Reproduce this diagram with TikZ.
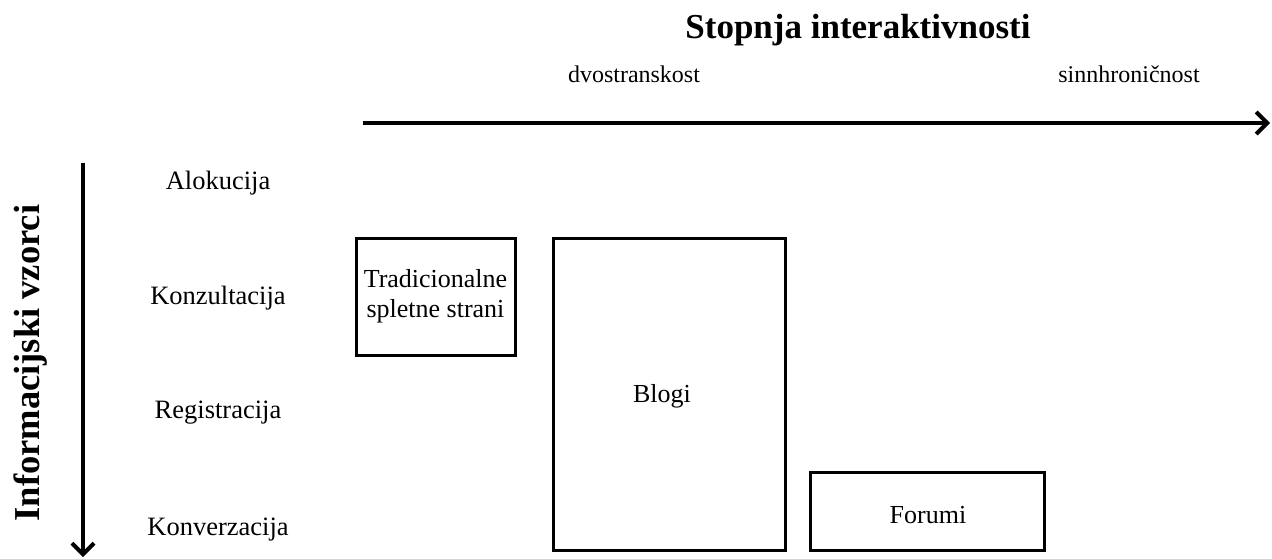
\documentclass[tikz,border=0pt]{standalone}
\usepackage{fontspec}
\setmainfont{Liberation Serif}
\usetikzlibrary{arrows.meta}
\begin{document}
\begin{tikzpicture}[x=1pt,y=-1pt,
  lbl/.style={font=\fontsize{24}{28}\selectfont, inner sep=0pt},
  rowlbl/.style={font=\fontsize{26.5}{30}\selectfont, inner sep=0pt},
  boxlbl/.style={draw, line width=3pt, inner sep=0pt, font=\fontsize{26}{30}\selectfont, align=center},
  axis/.style={line width=4.5pt, -{Straight Barb[length=11pt,width=22pt,line width=4pt]}},
  ttl/.style={font=\bfseries\fontsize{35}{40}\selectfont, inner sep=0pt}]
\useasboundingbox (0,0) rectangle (1272,559);
% titles
\node[ttl] (title) at (858,30) {Stopnja interaktivnosti};
\node[lbl] (dvo) at (634,74) {dvostranskost};
\node[lbl] (sin) at (1129,74) {sinnhroničnost};
\node[ttl, font=\bfseries\fontsize{36.5}{40}\selectfont, rotate=90] (vt) at (31,363) {Informacijski vzorci};
% axes
\coordinate (hs) at (363,123);
\coordinate (he) at (1270,123);
\draw[axis] (hs) -- (he);
\coordinate (vs) at (83,163);
\coordinate (ve) at (83,557);
\draw[axis] (vs) -- (ve);
% row labels
\node[rowlbl] (alo) at (218,183) {Alokucija};
\node[rowlbl] (kon) at (218,298) {Konzultacija};
\node[rowlbl] (reg) at (218,413) {Registracija};
\node[rowlbl] (konv) at (218,530) {Konverzacija};
% boxes
\node[boxlbl, minimum width=159pt, minimum height=117pt] (trad) at (435.5,296.5) {Tradicionalne\\spletne strani};
\node[boxlbl, minimum width=232pt, minimum height=312pt] (blog) at (669,394) {};
\node[boxlbl, draw=none] (blogt) at (662,396) {Blogi};
\node[boxlbl, minimum width=234pt, minimum height=78pt] (forum) at (927,511) {};
\node[boxlbl, draw=none] (forumt) at (928,515) {Forumi};
\end{tikzpicture}
\end{document}
